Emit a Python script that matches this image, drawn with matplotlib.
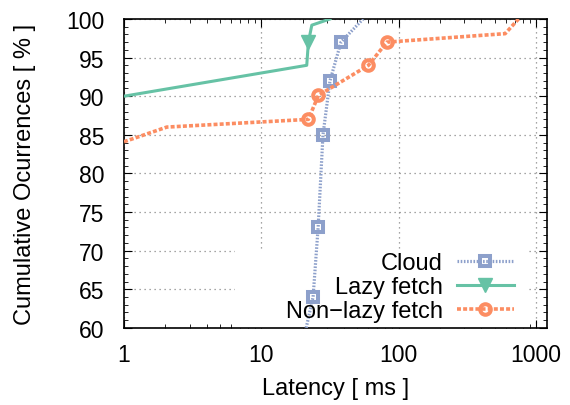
import matplotlib
matplotlib.use("Agg")
import matplotlib.pyplot as plt
from matplotlib.patches import Rectangle
from matplotlib.ticker import FixedLocator, NullFormatter

# === DATA (latency in ms, cumulative occurrences in %) ===
cloud_lat = [21.2, 23.8, 25.9, 28.1, 31.6, 38.0, 55.0]
cloud_cdf = [60.0, 64.0, 73.0, 85.0, 92.0, 97.0, 100.0]
cloud_marks = [1, 2, 3, 4, 5]

lazy_lat = [1.0, 21.4, 22.0, 23.3, 31.6]
lazy_cdf = [90.0, 94.0, 97.0, 99.2, 100.0]
lazy_marks = [2]

nonlazy_lat = [1.0, 2.05, 22.0, 26.0, 60.2, 81.9, 595.0, 745.0]
nonlazy_cdf = [84.1, 86.0, 87.0, 90.1, 94.0, 97.0, 98.1, 100.0]
nonlazy_marks = [2, 3, 4, 5]

xticks = [1, 10, 100, 1000]
xticklabels = ['1', '10', '100', '1000']
yticks = [60, 65, 70, 75, 80, 85, 90, 95, 100]

# === MATPLOTLIB CONFIG ===
plt.rcParams.update({
    "font.family": ["Liberation Sans", "DejaVu Sans"],
    "font.size": 16.5,
    "xtick.direction": "in",
    "ytick.direction": "in",
    "xtick.top": True,
    "ytick.right": True,
})

c_cloud = '#8da0cb'
c_lazy = '#66c2a5'
c_nonlazy = '#fc8d62'

fig = plt.figure(figsize=(5.7, 4.06), dpi=100)
ax = fig.add_axes([0.2175, 0.19, 0.7421, 0.7608])

ax.set_xscale('log')
ax.set_xlim(1, 1200)
ax.set_ylim(60, 100)

ax.plot(cloud_lat, cloud_cdf, color=c_cloud, lw=2.3, linestyle=(0, (0.5, 0.5)),
        marker='s', markevery=cloud_marks, markersize=7.2, mfc='none', mew=2.9,
        label='Cloud', zorder=3)
ax.plot(lazy_lat, lazy_cdf, color=c_lazy, lw=2.2, linestyle='-',
        marker='v', markevery=lazy_marks, markersize=10,
        label='Lazy fetch', zorder=3)
ax.plot(nonlazy_lat, nonlazy_cdf, color=c_nonlazy, lw=2.6, linestyle=(0, (1.1, 0.6)),
        marker='o', markevery=nonlazy_marks, markersize=7.6, mfc='none', mew=2.9,
        label='Non\u2212lazy fetch', zorder=3)

# grid (gnuplot style dotted)
ax.grid(True, which='major', color='#888888', linestyle=(0, (1, 3)), lw=0.9)
ax.set_axisbelow(True)

# white key background covering the grid
ax.add_patch(Rectangle((0.262, 0.0), 0.69, 0.256, transform=ax.transAxes,
                       facecolor='white', edgecolor='none', zorder=1.5))

ax.xaxis.set_major_locator(FixedLocator(xticks))
ax.set_xticklabels(xticklabels)
ax.xaxis.set_minor_formatter(NullFormatter())
ax.set_yticks(yticks)
ax.yaxis.set_minor_locator(FixedLocator(range(60, 101)))
ax.tick_params(which='major', length=6, width=0.8)
ax.tick_params(axis='x', which='major', pad=11)
ax.tick_params(axis='y', which='major', pad=14)
ax.tick_params(which='minor', length=3, width=0.6)
for s in ax.spines.values():
    s.set_linewidth(1.2)

ax.set_xlabel('Latency [ ms ]', fontsize=17, labelpad=8)
ax.set_ylabel('Cumulative Ocurrences [ % ]', fontsize=17, labelpad=22)

leg = ax.legend(loc='lower right', bbox_to_anchor=(0.96, -0.035), markerfirst=False,
                frameon=False, handlelength=2.4, handletextpad=0.6,
                labelspacing=0.08, borderpad=0.2, fontsize=17)
for col in leg._legend_handle_box.get_children():
    col.align = 'right'

fig.savefig('out.png', dpi=100)
